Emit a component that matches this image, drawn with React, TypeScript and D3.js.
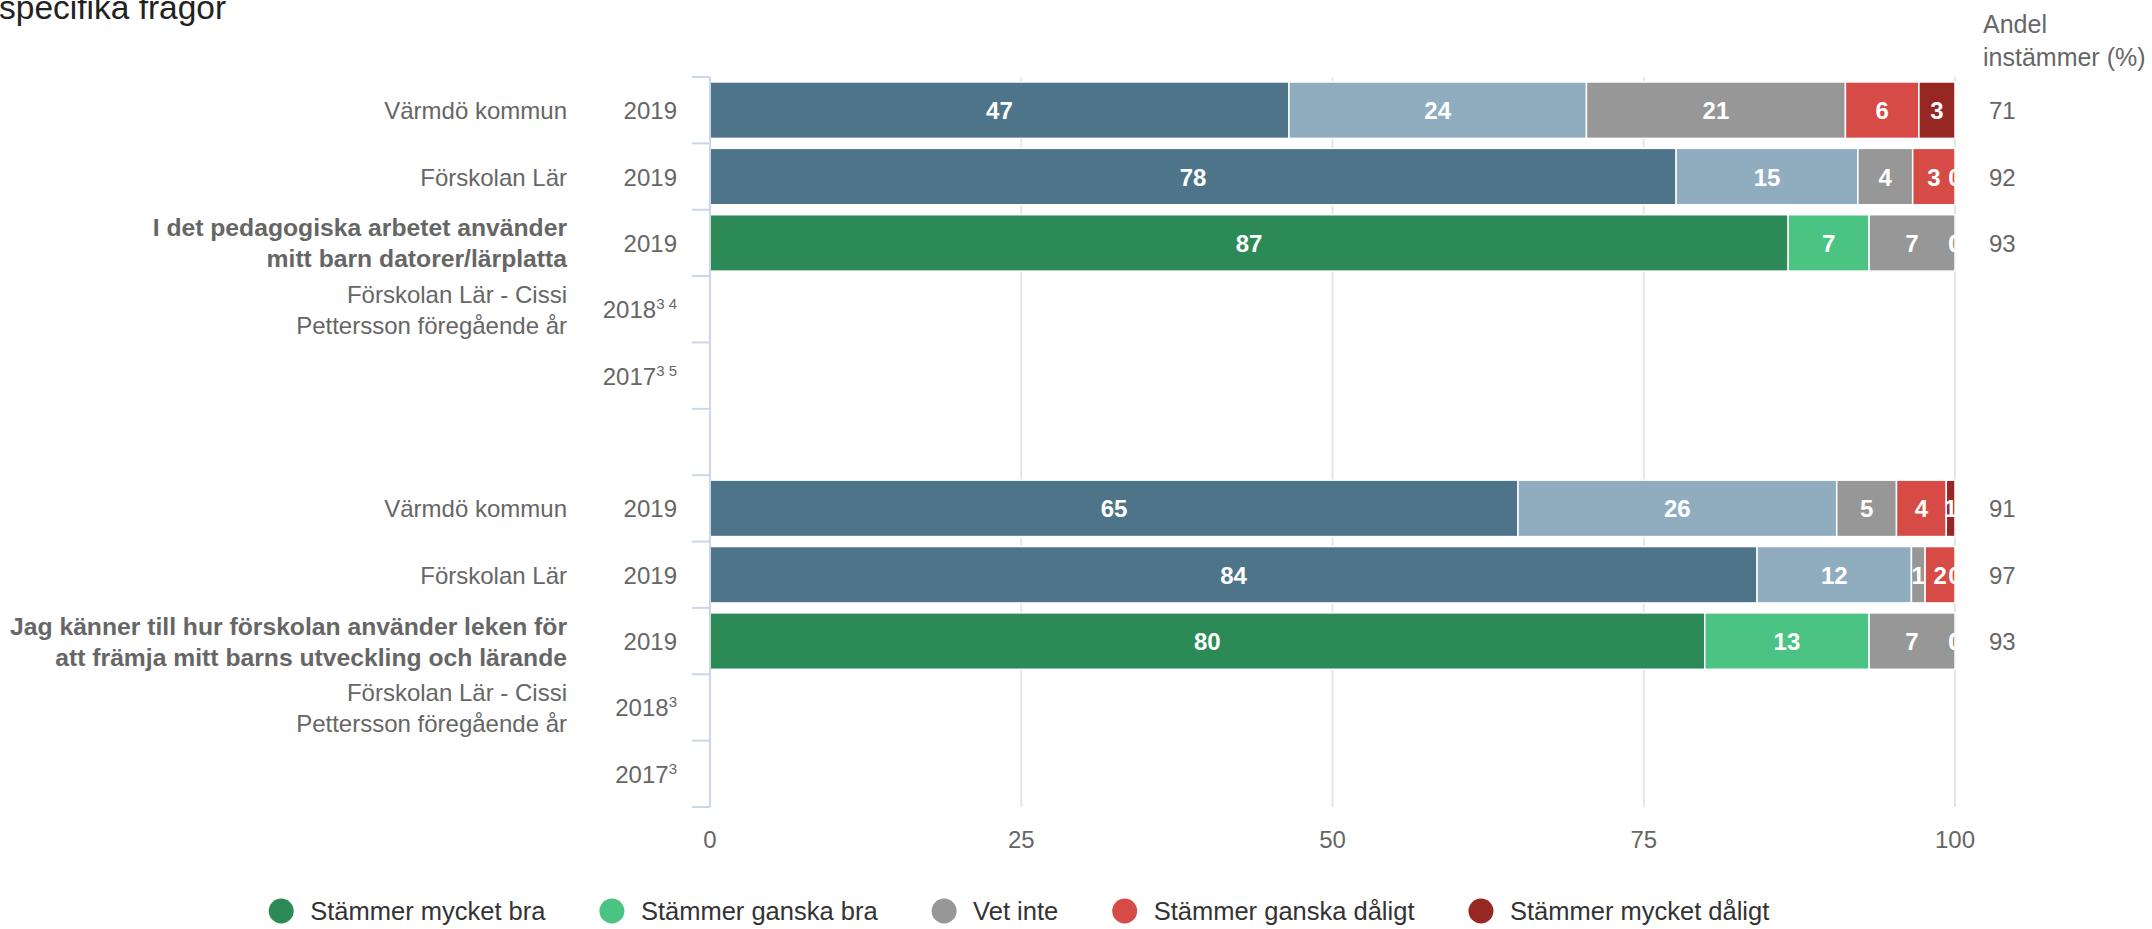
import { useEffect, useRef } from "react";
import * as d3 from "d3";

// Rows, top to bottom (one empty row separates the two questions)
const categories = [
  "Värmdö kommun",
  "Förskolan Lär",
  "I det pedagogiska arbetet använder|mitt barn datorer/lärplatta",
  "Förskolan Lär - Cissi|Pettersson föregående år",
  "",
  "",
  "Värmdö kommun",
  "Förskolan Lär",
  "Jag känner till hur förskolan använder leken för|att främja mitt barns utveckling och lärande",
  "Förskolan Lär - Cissi|Pettersson föregående år",
  "",
];
const boldRows = [false, false, true, false, false, false, false, false, true, false, false];
const years = ["2019", "2019", "2019", "2018", "2017", "", "2019", "2019", "2019", "2018", "2017"];
const yearNotes = ["", "", "", "3 4", "3 5", "", "", "", "", "3", "3"];
const ownRows = [false, false, true, false, false, false, false, false, true, false, false];

// Share of answers (%), per response option
const mycketBra = [46.5, 77.6, 86.6, null, null, null, 64.9, 84.1, 79.9, null, null];
const ganskaBra = [23.9, 14.6, 6.5, null, null, null, 25.6, 12.4, 13.2, null, null];
const vetInte = [20.8, 4.4, 6.9, null, null, null, 4.8, 1.1, 6.9, null, null];
const ganskaDaligt = [5.9, 3.4, 0, null, null, null, 4.0, 2.4, 0, null, null];
const mycketDaligt = [2.9, 0, 0, null, null, null, 0.7, 0, 0, null, null];
const andelInstammer = [71, 92, 93, null, null, null, 91, 97, 93, null, null];

const seriesNames = [
  "Stämmer mycket bra",
  "Stämmer ganska bra",
  "Vet inte",
  "Stämmer ganska dåligt",
  "Stämmer mycket dåligt",
];
const seriesValues = [mycketBra, ganskaBra, vetInte, ganskaDaligt, mycketDaligt];
const xTicks = [0, 25, 50, 75, 100];

const ownColors = ["#2c8a56", "#4bc483", "#979797", "#d64b46", "#962723"];
const compareColors = ["#4e748a", "#8fadbf", "#979797", "#d64b46", "#962723"];

const W = 2152;
const H = 929;
const FONT = "'Liberation Sans', Arial, Helvetica, sans-serif";

export default function App() {
  const ref = useRef<SVGSVGElement>(null);

  useEffect(() => {
    if (!ref.current) return;
    const svg = d3.select(ref.current);
    svg.selectAll("*").remove();

    const plot = { left: 710, right: 1955, top: 77, bottom: 807 };

    const x = d3.scaleLinear().domain([0, 100]).range([plot.left, plot.right]);
    const y = d3
      .scaleBand<number>()
      .domain(d3.range(categories.length))
      .range([plot.top, plot.bottom])
      .padding(0);
    const barH = y.bandwidth() * 0.85;

    svg
      .append("defs")
      .append("clipPath")
      .attr("id", "plot-clip")
      .append("rect")
      .attr("x", plot.left)
      .attr("y", plot.top)
      .attr("width", plot.right - plot.left)
      .attr("height", plot.bottom - plot.top);

    // Title (cut at the top, as in the source page)
    svg
      .append("text")
      .attr("x", -1)
      .attr("y", 19)
      .attr("font-size", 33.5)
      .attr("fill", "#222")
      .text("specifika frågor");

    // Grid lines
    svg
      .append("g")
      .selectAll("line")
      .data(xTicks.slice(1))
      .join("line")
      .attr("x1", (d) => x(d))
      .attr("x2", (d) => x(d))
      .attr("y1", plot.top)
      .attr("y2", plot.bottom)
      .attr("stroke", "#e6e6e6")
      .attr("stroke-width", 2);

    // X tick labels
    svg
      .append("g")
      .selectAll("text")
      .data(xTicks)
      .join("text")
      .attr("x", (d) => x(d))
      .attr("y", 848)
      .attr("text-anchor", "middle")
      .attr("font-size", 24)
      .attr("fill", "#666")
      .text((d) => d);

    // Stacked bars
    const rows = categories.map((_, i) => {
      let acc = 0;
      return seriesValues.map((s, k) => {
        const v = s[i];
        const seg = { row: i, k, v, x0: acc, x1: acc + (v ?? 0) };
        acc += v ?? 0;
        return seg;
      }).filter((s) => s.v !== null);
    });
    const segs = rows.flat();

    svg
      .append("g")
      .selectAll("rect")
      .data(segs.filter((s) => (s.v as number) > 0))
      .join("rect")
      .attr("x", (d) => x(d.x0))
      .attr("width", (d) => x(d.x1) - x(d.x0))
      .attr("y", (d) => (y(d.row) as number) + (y.bandwidth() - barH) / 2)
      .attr("height", barH)
      .attr("fill", (d) => (ownRows[d.row] ? ownColors : compareColors)[d.k])
      .attr("stroke", "#fff")
      .attr("stroke-width", 1.5);

    svg
      .append("g")
      .attr("clip-path", "url(#plot-clip)")
      .selectAll("text")
      .data(segs)
      .join("text")
      .attr("x", (d) => x((d.x0 + d.x1) / 2))
      .attr("y", (d) => (y(d.row) as number) + y.bandwidth() / 2 + 9)
      .attr("text-anchor", "middle")
      .attr("font-size", 24)
      .attr("font-weight", "bold")
      .attr("fill", "#fff")
      .text((d) => Math.round(d.v as number));

    // Y axis line and ticks
    const axis = svg.append("g").attr("stroke", "#ccd6eb").attr("stroke-width", 2);
    axis
      .append("line")
      .attr("x1", plot.left)
      .attr("x2", plot.left)
      .attr("y1", plot.top)
      .attr("y2", plot.bottom);
    axis
      .selectAll("line.tick")
      .data(d3.range(categories.length + 1))
      .join("line")
      .attr("class", "tick")
      .attr("x1", plot.left - 18)
      .attr("x2", plot.left)
      .attr("y1", (i) => plot.top + i * y.step())
      .attr("y2", (i) => plot.top + i * y.step());

    // Category labels
    const catG = svg.append("g").attr("fill", "#666").attr("font-size", 24);
    categories.forEach((c, i) => {
      if (!c) return;
      const lines = c.split("|");
      const cy = (y(i) as number) + y.bandwidth() / 2 + 9;
      const t = catG
        .append("text")
        .attr("text-anchor", "end")
        .attr("font-size", boldRows[i] ? 24.7 : 24)
        .attr("font-weight", boldRows[i] ? "bold" : "normal");
      lines.forEach((ln, j) => {
        t.append("tspan")
          .attr("x", 567)
          .attr("y", cy + (j - (lines.length - 1) / 2) * 31)
          .text(ln);
      });
    });

    // Year labels with footnote superscripts
    years.forEach((yr, i) => {
      if (!yr) return;
      const t = catG
        .append("text")
        .attr("x", 677)
        .attr("y", (y(i) as number) + y.bandwidth() / 2 + 9)
        .attr("text-anchor", "end")
        .text(yr);
      if (yearNotes[i]) {
        t.append("tspan")
          .attr("font-size", 15)
          .attr("dy", -9)
          .text(yearNotes[i]);
      }
    });

    // Andel instämmer column
    const andelG = svg.append("g").attr("fill", "#666").attr("font-size", 24);
    andelG.append("text").attr("x", 1983).attr("y", 33).attr("font-size", 25).text("Andel");
    andelG.append("text").attr("x", 1983).attr("y", 66).attr("font-size", 25).text("instämmer (%)");
    andelInstammer.forEach((v, i) => {
      if (v === null) return;
      andelG
        .append("text")
        .attr("x", 1989)
        .attr("y", (y(i) as number) + y.bandwidth() / 2 + 9)
        .text(v);
    });

    // Legend
    const legend = svg.append("g");
    let cx = 0;
    seriesNames.forEach((name, k) => {
      const item = legend.append("g").attr("transform", `translate(${cx},0)`);
      item.append("circle").attr("cx", 0).attr("cy", 0).attr("r", 12.5).attr("fill", ownColors[k]);
      const txt = item
        .append("text")
        .attr("x", 29)
        .attr("y", 9)
        .attr("font-size", 25.5)
        .attr("fill", "#333")
        .text(name);
      const w = (txt.node() as SVGTextElement).getComputedTextLength();
      cx += 29 + w + 66.5;
    });
    const totalW = cx - 66.5 + 12.5;
    const startX = 1019 - totalW / 2 + 12.5;
    legend.attr("transform", `translate(${startX},911)`);
  }, []);

  return (
    <div style={{ position: "absolute", left: 0, top: 0, width: W, height: H, background: "#fff" }}>
      <svg ref={ref} width={W} height={H} style={{ display: "block", fontFamily: FONT }} />
    </div>
  );
}
